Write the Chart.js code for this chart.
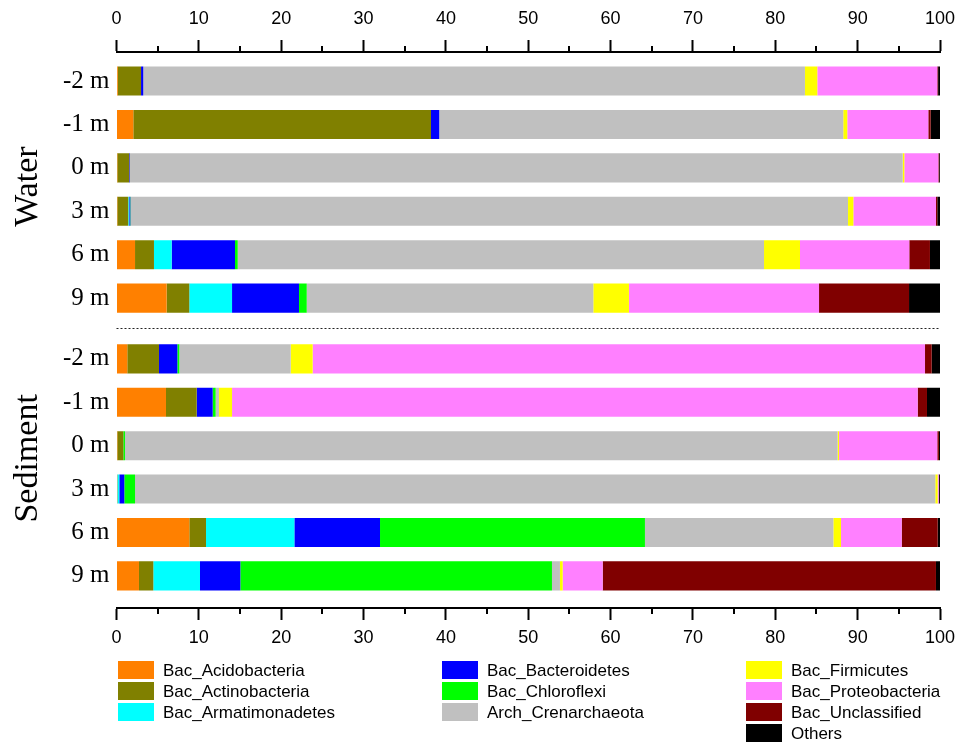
<!DOCTYPE html>
<html>
<head>
<meta charset="utf-8">
<script src="https://cdn.jsdelivr.net/npm/chart.js@4/dist/chart.umd.min.js"></script>
<style>
  html, body { margin: 0; padding: 0; background: #ffffff; }
  #wrap { width: 970px; height: 742px; }
</style>
</head>
<body>
<div id="wrap"><canvas id="c" width="970" height="742"></canvas></div>
<script>
// Sample groups and depths (rows, top to bottom)
const groups = ['Water', 'Sediment'];
const depths = ['-2 m', '-1 m', '0 m', '3 m', '6 m', '9 m'];

// Axis tick labels (relative abundance, %)
const xTicks = [0, 10, 20, 30, 40, 50, 60, 70, 80, 90, 100];
const xMinorTicks = [5, 15, 25, 35, 45, 55, 65, 75, 85, 95];

// Taxa in stacking order
const taxa = [
  'Bac_Acidobacteria', 'Bac_Actinobacteria', 'Bac_Armatimonadetes',
  'Bac_Bacteroidetes', 'Bac_Chloroflexi', 'Arch_Crenarchaeota',
  'Bac_Firmicutes', 'Bac_Proteobacteria', 'Bac_Unclassified', 'Others'
];

// Relative abundance (%) per row: Water -2..9 m, then Sediment -2..9 m
const acidobacteria   = [0.15, 2.04, 0.10, 0.10, 2.25, 6.09, 1.31, 6.01, 0.10, 0.10, 8.84, 2.73];
const actinobacteria  = [2.83, 36.15, 1.45, 1.33, 2.30, 2.75, 3.85, 3.73, 0.73, 0.00, 2.03, 1.74];
const armatimonadetes = [0.00, 0.00, 0.00, 0.12, 2.15, 5.19, 0.00, 0.00, 0.00, 0.24, 10.73, 5.67];
const bacteroidetes   = [0.27, 1.00, 0.08, 0.13, 7.69, 8.13, 2.23, 1.94, 0.00, 0.61, 10.40, 4.90];
const chloroflexi     = [0.00, 0.00, 0.00, 0.05, 0.33, 0.94, 0.24, 0.36, 0.20, 1.30, 32.17, 37.84];
const crenarchaeota   = [80.35, 49.06, 93.84, 87.10, 63.91, 34.80, 13.52, 0.41, 86.54, 97.18, 22.88, 0.97];
const firmicutes      = [1.50, 0.49, 0.20, 0.65, 4.37, 4.33, 2.67, 1.58, 0.17, 0.29, 0.93, 0.33];
const proteobacteria  = [14.57, 9.84, 4.13, 10.03, 13.27, 23.08, 74.36, 83.26, 11.93, 0.12, 7.37, 4.86];
const unclassified    = [0.10, 0.29, 0.10, 0.16, 2.51, 10.93, 0.81, 1.13, 0.20, 0.05, 4.37, 40.47];
const others          = [0.23, 1.13, 0.10, 0.33, 1.22, 3.76, 1.01, 1.58, 0.13, 0.11, 0.28, 0.49];

const seriesValues = [acidobacteria, actinobacteria, armatimonadetes, bacteroidetes,
  chloroflexi, crenarchaeota, firmicutes, proteobacteria, unclassified, others];

const colors = ['#FF8000', '#808000', '#00FFFF', '#0000FF', '#00FF00',
  '#C0C0C0', '#FFFF00', '#FF80FF', '#800000', '#000000'];

// Row slots on the y scale: rows are one unit apart, groups separated by an extra gap
const groupGap = 0.4;
const rowPos = [];
const rowLabel = [];
groups.forEach((g, gi) => {
  depths.forEach((d, di) => {
    rowPos.push(gi * (depths.length + groupGap) + di);
    rowLabel.push(d);
  });
});
const yMin = -0.67;
const yMax = rowPos[rowPos.length - 1] + 0.74;

const datasets = taxa.map((name, k) => ({
  label: name,
  data: seriesValues[k].map((v, i) => ({ x: v, y: rowPos[i] })),
  backgroundColor: colors[k],
  borderWidth: 0,
  grouped: false,
  barPercentage: 0.67,
  categoryPercentage: 1.0
}));

const sansFont = "'Liberation Sans', Arial, sans-serif";
const serifFont = "'Liberation Serif', 'Times New Roman', serif";

const xAxisBase = {
  type: 'linear',
  axis: 'x',
  min: 0,
  max: 100,
  afterBuildTicks: s => { s.ticks = xTicks.map(v => ({ value: v })); },
  ticks: { font: { family: sansFont, size: 18 }, color: '#000', maxRotation: 0, autoSkip: false },
  grid: { drawOnChartArea: false, drawTicks: true, tickLength: 12, tickWidth: 2, tickColor: '#000' },
  border: { display: true, color: '#000', width: 2 }
};

// Extra drawing: minor ticks, group separator, group titles, legend
const decorations = {
  id: 'decorations',
  afterDraw(chart) {
    const ctx = chart.ctx;
    const area = chart.chartArea;
    const xs = chart.scales.x;
    const ys = chart.scales.y;
    ctx.save();

    // minor ticks on both horizontal axes
    ctx.strokeStyle = '#000';
    ctx.lineWidth = 2;
    xMinorTicks.forEach(v => {
      const px = Math.round(xs.getPixelForValue(v));
      ctx.beginPath();
      ctx.moveTo(px, area.top);
      ctx.lineTo(px, area.top - 6);
      ctx.moveTo(px, area.bottom);
      ctx.lineTo(px, area.bottom + 6);
      ctx.stroke();
    });

    // dashed separator between the two sample groups
    const sepVal = (rowPos[depths.length - 1] + rowPos[depths.length]) / 2;
    const sy = Math.round(ys.getPixelForValue(sepVal)) + 0.5;
    ctx.setLineDash([2, 2]);
    ctx.lineWidth = 1;
    ctx.strokeStyle = '#222';
    ctx.beginPath();
    ctx.moveTo(xs.getPixelForValue(0), sy);
    ctx.lineTo(xs.getPixelForValue(100), sy);
    ctx.stroke();
    ctx.setLineDash([]);

    // rotated group titles, placed slightly above each group's middle row
    const titleShift = [-3, -9];
    ctx.fillStyle = '#000';
    ctx.font = '34px ' + serifFont;
    ctx.textAlign = 'center';
    ctx.textBaseline = 'middle';
    groups.forEach((g, gi) => {
      const first = rowPos[gi * depths.length];
      const last = rowPos[gi * depths.length + depths.length - 1];
      const cy = (ys.getPixelForValue(first) + ys.getPixelForValue(last)) / 2 + titleShift[gi];
      ctx.save();
      ctx.translate(28, cy);
      ctx.rotate(-Math.PI / 2);
      ctx.fillText(g, 0, 0);
      ctx.restore();
    });

    // legend in three columns
    const colX = [118, 442, 746];
    const rowY = [670, 691, 712, 733];
    const perCol = [3, 3, 4];
    ctx.font = '17px ' + sansFont;
    ctx.textAlign = 'left';
    ctx.textBaseline = 'middle';
    let k = 0;
    perCol.forEach((n, c) => {
      for (let r = 0; r < n; r++, k++) {
        const ds = chart.data.datasets[k];
        ctx.fillStyle = ds.backgroundColor;
        ctx.fillRect(colX[c], rowY[r] - 9, 36, 18);
        ctx.fillStyle = '#000';
        ctx.fillText(ds.label, colX[c] + 45, rowY[r] + 1);
      }
    });
    ctx.restore();
  }
};

new Chart(document.getElementById('c'), {
  type: 'bar',
  data: { datasets },
  options: {
    indexAxis: 'y',
    responsive: false,
    animation: false,
    devicePixelRatio: 1,
    layout: { padding: { left: 0, right: 30, top: 0, bottom: 94 } },
    plugins: { legend: { display: false }, tooltip: { enabled: false } },
    scales: {
      x: Object.assign({}, xAxisBase, {
        position: 'bottom',
        stacked: true,
        ticks: Object.assign({}, xAxisBase.ticks, { padding: 7 }),
        afterFit: s => { s.height = 40; }
      }),
      x2: Object.assign({}, xAxisBase, {
        position: 'top',
        ticks: Object.assign({}, xAxisBase.ticks, { padding: 10 }),
        afterFit: s => { s.height = 52; }
      }),
      y: {
        type: 'linear',
        position: 'left',
        reverse: true,
        offset: false,
        min: yMin,
        max: yMax,
        afterBuildTicks: s => { s.ticks = rowPos.map(v => ({ value: v })); },
        ticks: {
          autoSkip: false,
          font: { family: serifFont, size: 25 },
          color: '#000',
          padding: 7,
          callback: (v) => {
            const i = rowPos.findIndex(p => Math.abs(p - v) < 1e-6);
            return i >= 0 ? rowLabel[i] : '';
          }
        },
        grid: { display: false, drawTicks: false, offset: false },
        border: { display: false },
        afterFit: s => { s.width = 116.5; }
      }
    }
  },
  plugins: [decorations]
});
</script>
</body>
</html>
